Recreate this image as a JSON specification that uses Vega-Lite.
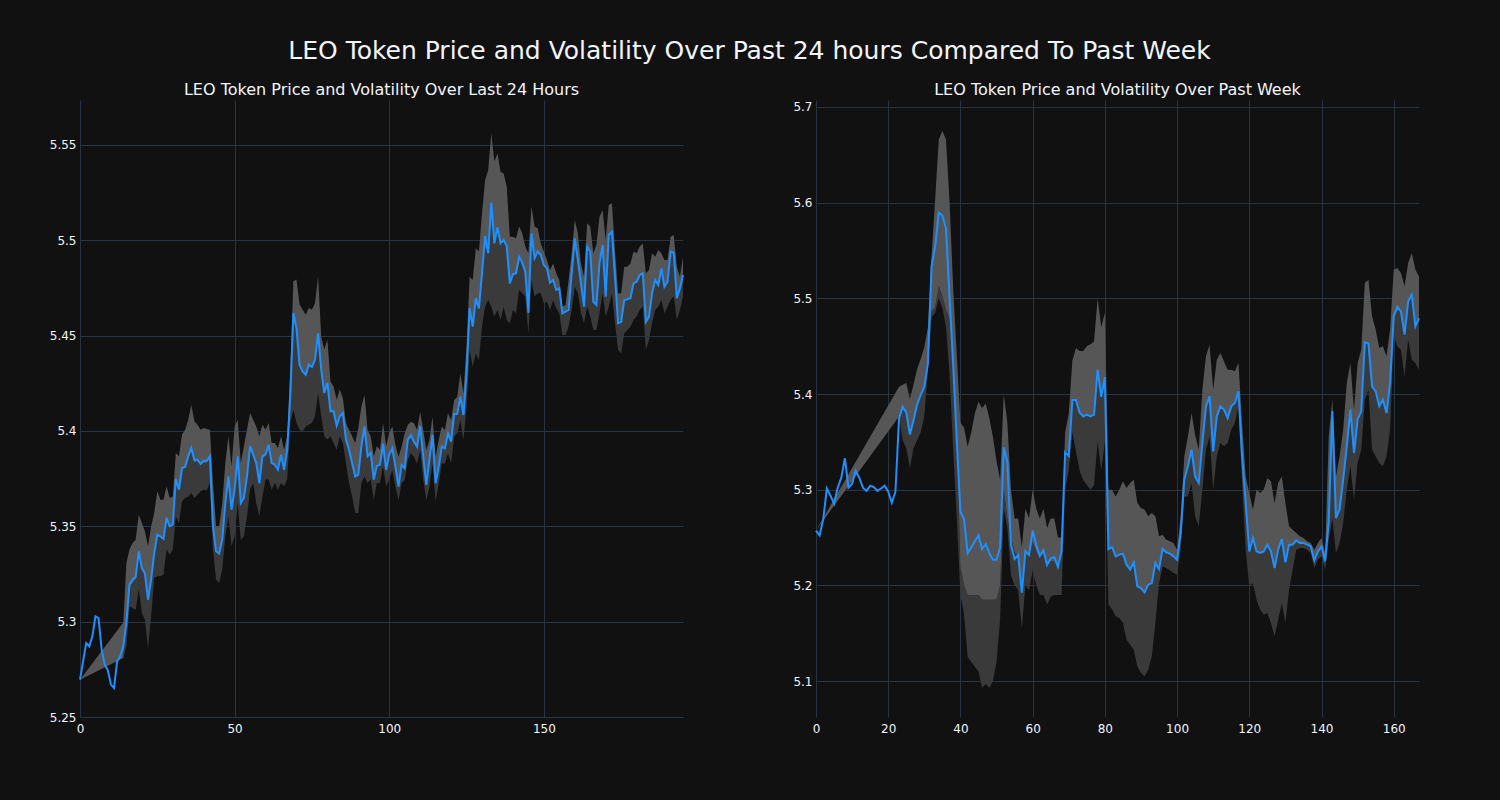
{
"$schema":"https://vega.github.io/schema/vega-lite/v6.json",
"background":"#111111",
"padding":{"left":40,"top":39,"right":77,"bottom":67},
"title":{"text":"LEO Token Price and Volatility Over Past 24 hours Compared To Past Week","fontSize":25,"font":"DejaVu Sans","fontWeight":"normal","color":"#f2f5fa","anchor":"middle","offset":18,"dx":18},
"config":{
"view":{"stroke":null,"fill":"#111111"},
"axis":{"domain":false,"ticks":false,"gridColor":"#283442","gridWidth":1,"labelColor":"#f2f5fa","labelFont":"DejaVu Sans","labelFontSize":12,"labelFlush":false},
"title":{"font":"DejaVu Sans","fontSize":16,"fontWeight":"normal","color":"#f2f5fa","offset":2}
},
"spacing":89,
"datasets":{
"left":[{"x":0,"p":5.2696},{"x":1,"p":5.2792},{"x":2,"p":5.2888},{"x":3,"p":5.2871},{"x":4,"p":5.2923},{"x":5,"p":5.3028},{"x":6,"p":5.3019},{"x":7,"p":5.2853},{"x":8,"p":5.2774},{"x":9,"p":5.2745},{"x":10,"p":5.267},{"x":11,"p":5.2652},{"x":12,"p":5.2792},{"x":13,"p":5.2818},{"x":14,"p":5.2871},{"x":15,"p":5.2993},{"x":16,"p":5.3194},{"x":17,"p":5.322},{"x":18,"p":5.3234},{"x":19,"p":5.3369},{"x":20,"p":5.3281},{"x":21,"p":5.3252},{"x":22,"p":5.3115},{"x":23,"p":5.322},{"x":24,"p":5.336},{"x":25,"p":5.3456},{"x":26,"p":5.3448},{"x":27,"p":5.3434},{"x":28,"p":5.3544},{"x":29,"p":5.35},{"x":30,"p":5.3509},{"x":31,"p":5.3748},{"x":32,"p":5.3692},{"x":33,"p":5.3806},{"x":34,"p":5.3811},{"x":35,"p":5.3867},{"x":36,"p":5.3911},{"x":37,"p":5.3846},{"x":38,"p":5.385},{"x":39,"p":5.3827},{"x":40,"p":5.3844},{"x":41,"p":5.3844},{"x":42,"p":5.3867},{"x":43,"p":5.35},{"x":44,"p":5.3369},{"x":45,"p":5.3357},{"x":46,"p":5.343},{"x":47,"p":5.3622},{"x":48,"p":5.3762},{"x":49,"p":5.3587},{"x":50,"p":5.3692},{"x":51,"p":5.3867},{"x":52,"p":5.3622},{"x":53,"p":5.3649},{"x":54,"p":5.3762},{"x":55,"p":5.392},{"x":56,"p":5.3876},{"x":57,"p":5.3832},{"x":58,"p":5.3727},{"x":59,"p":5.3867},{"x":60,"p":5.3876},{"x":61,"p":5.3928},{"x":62,"p":5.3832},{"x":63,"p":5.3823},{"x":64,"p":5.3797},{"x":65,"p":5.3876},{"x":66,"p":5.3797},{"x":67,"p":5.3902},{"x":68,"p":5.4182},{"x":69,"p":5.4619},{"x":70,"p":5.454},{"x":71,"p":5.4348},{"x":72,"p":5.4313},{"x":73,"p":5.4295},{"x":74,"p":5.4348},{"x":75,"p":5.4336},{"x":76,"p":5.4374},{"x":77,"p":5.4514},{"x":78,"p":5.4322},{"x":79,"p":5.4199},{"x":80,"p":5.4252},{"x":81,"p":5.4103},{"x":82,"p":5.4103},{"x":83,"p":5.4028},{"x":84,"p":5.4077},{"x":85,"p":5.4094},{"x":86,"p":5.3955},{"x":87,"p":5.3902},{"x":88,"p":5.3832},{"x":89,"p":5.3762},{"x":90,"p":5.3771},{"x":91,"p":5.392},{"x":92,"p":5.4024},{"x":93,"p":5.3867},{"x":94,"p":5.3885},{"x":95,"p":5.3745},{"x":96,"p":5.3818},{"x":97,"p":5.3823},{"x":98,"p":5.3934},{"x":99,"p":5.3797},{"x":100,"p":5.3876},{"x":101,"p":5.3909},{"x":102,"p":5.3813},{"x":103,"p":5.3708},{"x":104,"p":5.3822},{"x":105,"p":5.3804},{"x":106,"p":5.3953},{"x":107,"p":5.3979},{"x":108,"p":5.3944},{"x":109,"p":5.3918},{"x":110,"p":5.4026},{"x":111,"p":5.3865},{"x":112,"p":5.3717},{"x":113,"p":5.3848},{"x":114,"p":5.3979},{"x":115,"p":5.3726},{"x":116,"p":5.3813},{"x":117,"p":5.3918},{"x":118,"p":5.3909},{"x":119,"p":5.3988},{"x":120,"p":5.3944},{"x":121,"p":5.4089},{"x":122,"p":5.4089},{"x":123,"p":5.418},{"x":124,"p":5.4084},{"x":125,"p":5.4302},{"x":126,"p":5.4643},{"x":127,"p":5.4547},{"x":128,"p":5.4696},{"x":129,"p":5.4643},{"x":130,"p":5.4827},{"x":131,"p":5.5023},{"x":132,"p":5.4932},{"x":133,"p":5.5198},{"x":134,"p":5.4984},{"x":135,"p":5.5068},{"x":136,"p":5.4984},{"x":137,"p":5.5002},{"x":138,"p":5.497},{"x":139,"p":5.4774},{"x":140,"p":5.4823},{"x":141,"p":5.4827},{"x":142,"p":5.4914},{"x":143,"p":5.4883},{"x":144,"p":5.4836},{"x":145,"p":5.4621},{"x":146,"p":5.5037},{"x":147,"p":5.4906},{"x":148,"p":5.4941},{"x":149,"p":5.4923},{"x":150,"p":5.4871},{"x":151,"p":5.4853},{"x":152,"p":5.4778},{"x":153,"p":5.4792},{"x":154,"p":5.474},{"x":155,"p":5.4748},{"x":156,"p":5.4617},{"x":157,"p":5.4626},{"x":158,"p":5.4635},{"x":159,"p":5.4827},{"x":160,"p":5.501},{"x":161,"p":5.4897},{"x":162,"p":5.4774},{"x":163,"p":5.4652},{"x":164,"p":5.4967},{"x":165,"p":5.4941},{"x":166,"p":5.4678},{"x":167,"p":5.4661},{"x":168,"p":5.4879},{"x":169,"p":5.4976},{"x":170,"p":5.4705},{"x":171,"p":5.5028},{"x":172,"p":5.5045},{"x":173,"p":5.4809},{"x":174,"p":5.4565},{"x":175,"p":5.4573},{"x":176,"p":5.4687},{"x":177,"p":5.4691},{"x":178,"p":5.4696},{"x":179,"p":5.4774},{"x":180,"p":5.4783},{"x":181,"p":5.4818},{"x":182,"p":5.4827},{"x":183,"p":5.4573},{"x":184,"p":5.46},{"x":185,"p":5.4722},{"x":186,"p":5.4792},{"x":187,"p":5.4766},{"x":188,"p":5.4853},{"x":189,"p":5.4757},{"x":190,"p":5.4783},{"x":191,"p":5.4941},{"x":192,"p":5.4935},{"x":193,"p":5.4696},{"x":194,"p":5.4748},{"x":195,"p":5.4818}],
"leftBand":[{"x":0,"hi":5.2696,"mid":5.2696,"lo":5.2696},{"x":14,"hi":5.2996,"mid":5.2809,"lo":5.2809},{"x":15,"hi":5.3308,"mid":5.2993,"lo":5.2871},{"x":16,"hi":5.3378,"mid":5.3185,"lo":5.308},{"x":17,"hi":5.3413,"mid":5.3203,"lo":5.3072},{"x":18,"hi":5.343,"mid":5.322,"lo":5.3063},{"x":19,"hi":5.3561,"mid":5.336,"lo":5.3168},{"x":20,"hi":5.3517,"mid":5.3273,"lo":5.3045},{"x":21,"hi":5.3474,"mid":5.3246,"lo":5.301},{"x":22,"hi":5.3395,"mid":5.3115,"lo":5.2862},{"x":23,"hi":5.35,"mid":5.322,"lo":5.3028},{"x":24,"hi":5.357,"mid":5.3343,"lo":5.3229},{"x":25,"hi":5.3684,"mid":5.3448,"lo":5.3238},{"x":26,"hi":5.364,"mid":5.3439,"lo":5.3238},{"x":27,"hi":5.364,"mid":5.343,"lo":5.3246},{"x":28,"hi":5.371,"mid":5.3535,"lo":5.3378},{"x":29,"hi":5.3649,"mid":5.35,"lo":5.3351},{"x":30,"hi":5.3657,"mid":5.3509,"lo":5.3378},{"x":31,"hi":5.3885,"mid":5.3745,"lo":5.3552},{"x":32,"hi":5.3867,"mid":5.3692,"lo":5.3517},{"x":33,"hi":5.3981,"mid":5.3806,"lo":5.3631},{"x":34,"hi":5.4007,"mid":5.3806,"lo":5.3649},{"x":35,"hi":5.4059,"mid":5.3867,"lo":5.3657},{"x":36,"hi":5.4138,"mid":5.3911,"lo":5.3675},{"x":37,"hi":5.4051,"mid":5.3832,"lo":5.3649},{"x":38,"hi":5.4033,"mid":5.3841,"lo":5.3666},{"x":39,"hi":5.4007,"mid":5.3823,"lo":5.3684},{"x":40,"hi":5.4016,"mid":5.3832,"lo":5.3692},{"x":41,"hi":5.401,"mid":5.3832,"lo":5.3689},{"x":42,"hi":5.4007,"mid":5.3858,"lo":5.3727},{"x":43,"hi":5.3727,"mid":5.3517,"lo":5.3378},{"x":44,"hi":5.35,"mid":5.3378,"lo":5.322},{"x":45,"hi":5.35,"mid":5.3357,"lo":5.3203},{"x":46,"hi":5.3622,"mid":5.343,"lo":5.3273},{"x":47,"hi":5.3832,"mid":5.3622,"lo":5.3448},{"x":48,"hi":5.3972,"mid":5.3762,"lo":5.3552},{"x":49,"hi":5.3815,"mid":5.3587,"lo":5.3395},{"x":50,"hi":5.4024,"mid":5.3692,"lo":5.3448},{"x":51,"hi":5.4059,"mid":5.3867,"lo":5.3622},{"x":52,"hi":5.3832,"mid":5.3622,"lo":5.343},{"x":53,"hi":5.392,"mid":5.3649,"lo":5.3448},{"x":54,"hi":5.4007,"mid":5.3762,"lo":5.3552},{"x":55,"hi":5.4094,"mid":5.392,"lo":5.3692},{"x":56,"hi":5.4059,"mid":5.3876,"lo":5.3727},{"x":57,"hi":5.4024,"mid":5.3832,"lo":5.3622},{"x":58,"hi":5.3972,"mid":5.3727,"lo":5.3552},{"x":59,"hi":5.4033,"mid":5.3867,"lo":5.3657},{"x":60,"hi":5.4007,"mid":5.3876,"lo":5.3745},{"x":61,"hi":5.4042,"mid":5.3928,"lo":5.3745},{"x":62,"hi":5.3937,"mid":5.3832,"lo":5.3692},{"x":63,"hi":5.3937,"mid":5.3823,"lo":5.3727},{"x":64,"hi":5.3911,"mid":5.3797,"lo":5.3692},{"x":65,"hi":5.3972,"mid":5.3876,"lo":5.3727},{"x":66,"hi":5.3902,"mid":5.3797,"lo":5.371},{"x":67,"hi":5.3972,"mid":5.3902,"lo":5.3745},{"x":68,"hi":5.4322,"mid":5.4182,"lo":5.4042},{"x":69,"hi":5.4785,"mid":5.4601,"lo":5.4112},{"x":70,"hi":5.4794,"mid":5.4531,"lo":5.4042},{"x":71,"hi":5.4663,"mid":5.4348,"lo":5.4007},{"x":72,"hi":5.4636,"mid":5.4313,"lo":5.3998},{"x":73,"hi":5.461,"mid":5.4295,"lo":5.4024},{"x":74,"hi":5.4645,"mid":5.4348,"lo":5.4033},{"x":75,"hi":5.4636,"mid":5.4336,"lo":5.4042},{"x":76,"hi":5.4671,"mid":5.4374,"lo":5.4077},{"x":77,"hi":5.4811,"mid":5.4514,"lo":5.4199},{"x":78,"hi":5.4496,"mid":5.4322,"lo":5.4077},{"x":79,"hi":5.4427,"mid":5.4199,"lo":5.3972},{"x":80,"hi":5.4479,"mid":5.4252,"lo":5.3955},{"x":81,"hi":5.426,"mid":5.4103,"lo":5.3972},{"x":82,"hi":5.4234,"mid":5.4103,"lo":5.3937},{"x":83,"hi":5.4164,"mid":5.4028,"lo":5.3902},{"x":84,"hi":5.4217,"mid":5.4077,"lo":5.3972},{"x":85,"hi":5.4173,"mid":5.4086,"lo":5.3937},{"x":86,"hi":5.4042,"mid":5.3955,"lo":5.3832},{"x":87,"hi":5.4007,"mid":5.3902,"lo":5.3727},{"x":88,"hi":5.3972,"mid":5.3832,"lo":5.3657},{"x":89,"hi":5.3937,"mid":5.3762,"lo":5.357},{"x":90,"hi":5.4016,"mid":5.3771,"lo":5.357},{"x":91,"hi":5.4129,"mid":5.392,"lo":5.3727},{"x":92,"hi":5.419,"mid":5.4024,"lo":5.3762},{"x":93,"hi":5.4007,"mid":5.3867,"lo":5.3727},{"x":94,"hi":5.3972,"mid":5.3885,"lo":5.3745},{"x":95,"hi":5.3867,"mid":5.3745,"lo":5.364},{"x":96,"hi":5.392,"mid":5.3818,"lo":5.3727},{"x":97,"hi":5.3902,"mid":5.3823,"lo":5.3727},{"x":98,"hi":5.4042,"mid":5.3934,"lo":5.3815},{"x":99,"hi":5.392,"mid":5.3797,"lo":5.371},{"x":100,"hi":5.3989,"mid":5.3876,"lo":5.3745},{"x":101,"hi":5.4023,"mid":5.3909,"lo":5.3795},{"x":102,"hi":5.3927,"mid":5.3813,"lo":5.3708},{"x":103,"hi":5.3865,"mid":5.3708,"lo":5.3638},{"x":104,"hi":5.3918,"mid":5.3822,"lo":5.3726},{"x":105,"hi":5.3988,"mid":5.3804,"lo":5.3743},{"x":106,"hi":5.4031,"mid":5.3953,"lo":5.3848},{"x":107,"hi":5.4049,"mid":5.3979,"lo":5.3883},{"x":108,"hi":5.404,"mid":5.3944,"lo":5.3865},{"x":109,"hi":5.4005,"mid":5.3918,"lo":5.383},{"x":110,"hi":5.4101,"mid":5.4026,"lo":5.39},{"x":111,"hi":5.4005,"mid":5.3865,"lo":5.3743},{"x":112,"hi":5.39,"mid":5.3717,"lo":5.3638},{"x":113,"hi":5.3953,"mid":5.3848,"lo":5.3708},{"x":114,"hi":5.4075,"mid":5.3979,"lo":5.383},{"x":115,"hi":5.3865,"mid":5.3726,"lo":5.3629},{"x":116,"hi":5.3953,"mid":5.3813,"lo":5.3726},{"x":117,"hi":5.4023,"mid":5.3918,"lo":5.383},{"x":118,"hi":5.4005,"mid":5.3909,"lo":5.383},{"x":119,"hi":5.4093,"mid":5.3988,"lo":5.3883},{"x":120,"hi":5.4058,"mid":5.3944,"lo":5.383},{"x":121,"hi":5.4163,"mid":5.4089,"lo":5.397},{"x":122,"hi":5.418,"mid":5.4089,"lo":5.3988},{"x":123,"hi":5.4302,"mid":5.418,"lo":5.4058},{"x":124,"hi":5.4198,"mid":5.4084,"lo":5.3953},{"x":125,"hi":5.4442,"mid":5.4302,"lo":5.4128},{"x":126,"hi":5.4809,"mid":5.4643,"lo":5.4425},{"x":127,"hi":5.4792,"mid":5.4547,"lo":5.4337},{"x":128,"hi":5.4958,"mid":5.4696,"lo":5.4407},{"x":129,"hi":5.4941,"mid":5.4643,"lo":5.4372},{"x":130,"hi":5.5142,"mid":5.4827,"lo":5.4547},{"x":131,"hi":5.5316,"mid":5.4967,"lo":5.4652},{"x":132,"hi":5.5369,"mid":5.4932,"lo":5.4687},{"x":133,"hi":5.5561,"mid":5.5198,"lo":5.4652},{"x":134,"hi":5.5413,"mid":5.4984,"lo":5.46},{"x":135,"hi":5.5456,"mid":5.5054,"lo":5.4635},{"x":136,"hi":5.536,"mid":5.4984,"lo":5.4582},{"x":137,"hi":5.5351,"mid":5.5002,"lo":5.4652},{"x":138,"hi":5.5281,"mid":5.497,"lo":5.4582},{"x":139,"hi":5.5019,"mid":5.4774,"lo":5.4565},{"x":140,"hi":5.5019,"mid":5.4823,"lo":5.4635},{"x":141,"hi":5.5011,"mid":5.4827,"lo":5.4617},{"x":142,"hi":5.5072,"mid":5.4914,"lo":5.474},{"x":143,"hi":5.5037,"mid":5.4883,"lo":5.4722},{"x":144,"hi":5.4967,"mid":5.4836,"lo":5.4705},{"x":145,"hi":5.4932,"mid":5.4621,"lo":5.4512},{"x":146,"hi":5.5177,"mid":5.5037,"lo":5.4792},{"x":147,"hi":5.5072,"mid":5.4906,"lo":5.4705},{"x":148,"hi":5.5063,"mid":5.4941,"lo":5.4722},{"x":149,"hi":5.4984,"mid":5.4923,"lo":5.4722},{"x":150,"hi":5.4941,"mid":5.4871,"lo":5.467},{"x":151,"hi":5.4897,"mid":5.4853,"lo":5.4678},{"x":152,"hi":5.4844,"mid":5.4778,"lo":5.4635},{"x":153,"hi":5.4879,"mid":5.4792,"lo":5.4687},{"x":154,"hi":5.4827,"mid":5.4748,"lo":5.4643},{"x":155,"hi":5.4792,"mid":5.4748,"lo":5.4617},{"x":156,"hi":5.4652,"mid":5.4617,"lo":5.4503},{"x":157,"hi":5.4661,"mid":5.4626,"lo":5.4503},{"x":158,"hi":5.4792,"mid":5.4652,"lo":5.4547},{"x":159,"hi":5.4932,"mid":5.4827,"lo":5.4635},{"x":160,"hi":5.5107,"mid":5.501,"lo":5.4757},{"x":161,"hi":5.5037,"mid":5.4897,"lo":5.4722},{"x":162,"hi":5.4879,"mid":5.4774,"lo":5.4617},{"x":163,"hi":5.4809,"mid":5.4652,"lo":5.4565},{"x":164,"hi":5.5089,"mid":5.4967,"lo":5.4652},{"x":165,"hi":5.5072,"mid":5.4941,"lo":5.46},{"x":166,"hi":5.4932,"mid":5.4678,"lo":5.453},{"x":167,"hi":5.4976,"mid":5.4661,"lo":5.453},{"x":168,"hi":5.5124,"mid":5.4879,"lo":5.4617},{"x":169,"hi":5.5159,"mid":5.4976,"lo":5.4722},{"x":170,"hi":5.5002,"mid":5.4757,"lo":5.46},{"x":171,"hi":5.5185,"mid":5.5028,"lo":5.4652},{"x":172,"hi":5.5194,"mid":5.5045,"lo":5.4722},{"x":173,"hi":5.4949,"mid":5.4809,"lo":5.4565},{"x":174,"hi":5.4722,"mid":5.4582,"lo":5.4425},{"x":175,"hi":5.4722,"mid":5.4582,"lo":5.4407},{"x":176,"hi":5.4862,"mid":5.4687,"lo":5.4512},{"x":177,"hi":5.4862,"mid":5.4691,"lo":5.453},{"x":178,"hi":5.4879,"mid":5.4696,"lo":5.4547},{"x":179,"hi":5.4941,"mid":5.4774,"lo":5.4582},{"x":180,"hi":5.4932,"mid":5.4783,"lo":5.46},{"x":181,"hi":5.4967,"mid":5.4818,"lo":5.4635},{"x":182,"hi":5.4984,"mid":5.4827,"lo":5.4652},{"x":183,"hi":5.4827,"mid":5.4573,"lo":5.4425},{"x":184,"hi":5.4844,"mid":5.46,"lo":5.4477},{"x":185,"hi":5.4932,"mid":5.4722,"lo":5.4565},{"x":186,"hi":5.4914,"mid":5.4792,"lo":5.4635},{"x":187,"hi":5.4949,"mid":5.4766,"lo":5.4652},{"x":188,"hi":5.4932,"mid":5.4853,"lo":5.4687},{"x":189,"hi":5.4897,"mid":5.4757,"lo":5.4617},{"x":190,"hi":5.4897,"mid":5.4783,"lo":5.4652},{"x":191,"hi":5.5019,"mid":5.4941,"lo":5.4687},{"x":192,"hi":5.5028,"mid":5.4935,"lo":5.4705},{"x":193,"hi":5.4862,"mid":5.4696,"lo":5.4582},{"x":194,"hi":5.4809,"mid":5.4748,"lo":5.4635},{"x":195,"hi":5.4914,"mid":5.4818,"lo":5.4705}],
"right":[{"x":0,"p":5.2573},{"x":1,"p":5.2523},{"x":2,"p":5.2689},{"x":3,"p":5.3012},{"x":4,"p":5.2937},{"x":5,"p":5.2854},{"x":6,"p":5.302},{"x":7,"p":5.3123},{"x":8,"p":5.333},{"x":9,"p":5.302},{"x":10,"p":5.3061},{"x":11,"p":5.3198},{"x":12,"p":5.3123},{"x":13,"p":5.302},{"x":14,"p":5.2987},{"x":15,"p":5.3041},{"x":16,"p":5.3028},{"x":17,"p":5.2987},{"x":18,"p":5.3012},{"x":19,"p":5.3041},{"x":20,"p":5.2979},{"x":21,"p":5.2863},{"x":22,"p":5.2979},{"x":23,"p":5.3744},{"x":24,"p":5.3868},{"x":25,"p":5.3806},{"x":26,"p":5.3578},{"x":27,"p":5.3723},{"x":28,"p":5.3889},{"x":29,"p":5.3992},{"x":30,"p":5.4075},{"x":31,"p":5.4323},{"x":32,"p":5.5337},{"x":33,"p":5.5544},{"x":34,"p":5.5895},{"x":35,"p":5.5866},{"x":36,"p":5.573},{"x":37,"p":5.5},{"x":38,"p":5.43},{"x":39,"p":5.35},{"x":40,"p":5.277},{"x":41,"p":5.2689},{"x":42,"p":5.2337},{"x":43,"p":5.2399},{"x":44,"p":5.2461},{"x":45,"p":5.2523},{"x":46,"p":5.2379},{"x":47,"p":5.2432},{"x":48,"p":5.2337},{"x":49,"p":5.2267},{"x":50,"p":5.2267},{"x":51,"p":5.2399},{"x":52,"p":5.3442},{"x":53,"p":5.3289},{"x":54,"p":5.242},{"x":55,"p":5.2275},{"x":56,"p":5.2317},{"x":57,"p":5.1923},{"x":58,"p":5.2358},{"x":59,"p":5.2317},{"x":60,"p":5.2573},{"x":61,"p":5.242},{"x":62,"p":5.2308},{"x":63,"p":5.2366},{"x":64,"p":5.2213},{"x":65,"p":5.2283},{"x":66,"p":5.2296},{"x":67,"p":5.2192},{"x":68,"p":5.2358},{"x":69,"p":5.3392},{"x":70,"p":5.3351},{"x":71,"p":5.3938},{"x":72,"p":5.3938},{"x":73,"p":5.3806},{"x":74,"p":5.3765},{"x":75,"p":5.3785},{"x":76,"p":5.3765},{"x":77,"p":5.3785},{"x":78,"p":5.4253},{"x":79,"p":5.3971},{"x":80,"p":5.4178},{"x":81,"p":5.2379},{"x":82,"p":5.2399},{"x":83,"p":5.2303},{"x":84,"p":5.2321},{"x":85,"p":5.2331},{"x":86,"p":5.2216},{"x":87,"p":5.2164},{"x":88,"p":5.224},{"x":89,"p":5.199},{"x":90,"p":5.1972},{"x":91,"p":5.1927},{"x":92,"p":5.2007},{"x":93,"p":5.2024},{"x":94,"p":5.2233},{"x":95,"p":5.2171},{"x":96,"p":5.2383},{"x":97,"p":5.2345},{"x":98,"p":5.2331},{"x":99,"p":5.2303},{"x":100,"p":5.2268},{"x":101,"p":5.2547},{"x":102,"p":5.3104},{"x":103,"p":5.3244},{"x":104,"p":5.3418},{"x":105,"p":5.3139},{"x":106,"p":5.307},{"x":107,"p":5.3488},{"x":108,"p":5.3871},{"x":109,"p":5.3976},{"x":110,"p":5.3401},{"x":111,"p":5.3767},{"x":112,"p":5.3871},{"x":113,"p":5.3836},{"x":114,"p":5.3749},{"x":115,"p":5.3871},{"x":116,"p":5.3906},{"x":117,"p":5.4028},{"x":118,"p":5.3348},{"x":119,"p":5.2861},{"x":120,"p":5.2355},{"x":121,"p":5.2495},{"x":122,"p":5.2355},{"x":123,"p":5.2338},{"x":124,"p":5.2355},{"x":125,"p":5.2425},{"x":126,"p":5.2355},{"x":127,"p":5.2181},{"x":128,"p":5.2373},{"x":129,"p":5.2484},{"x":130,"p":5.224},{"x":131,"p":5.2425},{"x":132,"p":5.2425},{"x":133,"p":5.247},{"x":134,"p":5.2443},{"x":135,"p":5.2443},{"x":136,"p":5.2425},{"x":137,"p":5.2408},{"x":138,"p":5.2261},{"x":139,"p":5.2355},{"x":140,"p":5.2408},{"x":141,"p":5.2251},{"x":142,"p":5.2669},{"x":143,"p":5.3819},{"x":144,"p":5.2704},{"x":145,"p":5.2791},{"x":146,"p":5.3104},{"x":147,"p":5.3453},{"x":148,"p":5.3836},{"x":149,"p":5.3383},{"x":150,"p":5.3732},{"x":151,"p":5.3819},{"x":152,"p":5.454},{"x":153,"p":5.4526},{"x":154,"p":5.408},{"x":155,"p":5.4028},{"x":156,"p":5.3871},{"x":157,"p":5.3941},{"x":158,"p":5.3801},{"x":159,"p":5.4115},{"x":160,"p":5.4812},{"x":161,"p":5.4909},{"x":162,"p":5.4864},{"x":163,"p":5.462},{"x":164,"p":5.4969},{"x":165,"p":5.5038},{"x":166,"p":5.4707},{"x":167,"p":5.4794}],
"rightBand":[{"x":0,"hi":5.2573,"mid":5.2573,"lo":5.2573},{"x":23,"hi":5.4075,"mid":5.3765,"lo":5.3765},{"x":24,"hi":5.4096,"mid":5.3868,"lo":5.3516},{"x":25,"hi":5.4116,"mid":5.3806,"lo":5.3434},{"x":26,"hi":5.3951,"mid":5.3578,"lo":5.3227},{"x":27,"hi":5.4096,"mid":5.3723,"lo":5.3434},{"x":28,"hi":5.4261,"mid":5.3889,"lo":5.3516},{"x":29,"hi":5.4365,"mid":5.3992,"lo":5.3599},{"x":30,"hi":5.4489,"mid":5.4075,"lo":5.3765},{"x":31,"hi":5.47,"mid":5.44,"lo":5.425},{"x":32,"hi":5.545,"mid":5.487,"lo":5.48},{"x":33,"hi":5.603,"mid":5.49,"lo":5.485},{"x":34,"hi":5.666,"mid":5.513,"lo":5.5},{"x":35,"hi":5.675,"mid":5.502,"lo":5.49},{"x":36,"hi":5.666,"mid":5.488,"lo":5.47},{"x":37,"hi":5.6,"mid":5.478,"lo":5.42},{"x":38,"hi":5.51,"mid":5.42,"lo":5.34},{"x":39,"hi":5.44,"mid":5.35,"lo":5.27},{"x":40,"hi":5.37,"mid":5.22,"lo":5.19},{"x":41,"hi":5.365,"mid":5.2,"lo":5.17},{"x":42,"hi":5.345,"mid":5.19,"lo":5.125},{"x":43,"hi":5.36,"mid":5.19,"lo":5.12},{"x":44,"hi":5.38,"mid":5.19,"lo":5.115},{"x":45,"hi":5.392,"mid":5.19,"lo":5.11},{"x":46,"hi":5.385,"mid":5.185,"lo":5.093},{"x":47,"hi":5.39,"mid":5.185,"lo":5.097},{"x":48,"hi":5.375,"mid":5.185,"lo":5.093},{"x":49,"hi":5.355,"mid":5.185,"lo":5.1},{"x":50,"hi":5.33,"mid":5.185,"lo":5.12},{"x":51,"hi":5.31,"mid":5.2,"lo":5.165},{"x":52,"hi":5.4,"mid":5.3,"lo":5.28},{"x":53,"hi":5.37,"mid":5.27,"lo":5.26},{"x":54,"hi":5.3,"mid":5.25,"lo":5.21},{"x":55,"hi":5.27,"mid":5.235,"lo":5.2},{"x":56,"hi":5.27,"mid":5.23,"lo":5.195},{"x":57,"hi":5.24,"mid":5.2,"lo":5.155},{"x":58,"hi":5.28,"mid":5.235,"lo":5.2},{"x":59,"hi":5.27,"mid":5.23,"lo":5.195},{"x":60,"hi":5.3,"mid":5.245,"lo":5.215},{"x":61,"hi":5.28,"mid":5.235,"lo":5.2},{"x":62,"hi":5.27,"mid":5.23,"lo":5.19},{"x":63,"hi":5.28,"mid":5.235,"lo":5.19},{"x":64,"hi":5.26,"mid":5.22,"lo":5.18},{"x":65,"hi":5.27,"mid":5.225,"lo":5.188},{"x":66,"hi":5.27,"mid":5.225,"lo":5.19},{"x":67,"hi":5.25,"mid":5.22,"lo":5.19},{"x":68,"hi":5.25,"mid":5.23,"lo":5.19},{"x":69,"hi":5.36,"mid":5.34,"lo":5.3},{"x":70,"hi":5.38,"mid":5.34,"lo":5.32},{"x":71,"hi":5.435,"mid":5.394,"lo":5.36},{"x":72,"hi":5.448,"mid":5.394,"lo":5.34},{"x":73,"hi":5.445,"mid":5.38,"lo":5.32},{"x":74,"hi":5.445,"mid":5.377,"lo":5.31},{"x":75,"hi":5.45,"mid":5.378,"lo":5.305},{"x":76,"hi":5.452,"mid":5.377,"lo":5.3},{"x":77,"hi":5.455,"mid":5.38,"lo":5.305},{"x":78,"hi":5.5,"mid":5.425,"lo":5.35},{"x":79,"hi":5.47,"mid":5.4,"lo":5.32},{"x":80,"hi":5.485,"mid":5.418,"lo":5.35},{"x":81,"hi":5.3,"mid":5.24,"lo":5.18},{"x":82,"hi":5.3,"mid":5.24,"lo":5.175},{"x":83,"hi":5.293,"mid":5.2303,"lo":5.1676},{"x":84,"hi":5.3,"mid":5.2321,"lo":5.1659},{"x":85,"hi":5.3087,"mid":5.2331,"lo":5.1606},{"x":86,"hi":5.3017,"mid":5.2216,"lo":5.1432},{"x":87,"hi":5.307,"mid":5.2164,"lo":5.138},{"x":88,"hi":5.3104,"mid":5.2233,"lo":5.1328},{"x":89,"hi":5.2861,"mid":5.199,"lo":5.1153},{"x":90,"hi":5.2808,"mid":5.1972,"lo":5.1084},{"x":91,"hi":5.2791,"mid":5.1927,"lo":5.1049},{"x":92,"hi":5.2721,"mid":5.2007,"lo":5.1118},{"x":93,"hi":5.2756,"mid":5.2024,"lo":5.1258},{"x":94,"hi":5.2721,"mid":5.2233,"lo":5.1606},{"x":95,"hi":5.2512,"mid":5.2171,"lo":5.2024},{"x":96,"hi":5.253,"mid":5.2383,"lo":5.2199},{"x":97,"hi":5.2477,"mid":5.2345,"lo":5.2182},{"x":98,"hi":5.246,"mid":5.2331,"lo":5.2157},{"x":99,"hi":5.2443,"mid":5.2303,"lo":5.2129},{"x":100,"hi":5.2373,"mid":5.2268,"lo":5.2112},{"x":101,"hi":5.2721,"mid":5.2547,"lo":5.2373},{"x":102,"hi":5.3348,"mid":5.3104,"lo":5.293},{"x":103,"hi":5.3557,"mid":5.3244,"lo":5.293},{"x":104,"hi":5.3801,"mid":5.3418,"lo":5.307},{"x":105,"hi":5.3575,"mid":5.3139,"lo":5.2721},{"x":106,"hi":5.3418,"mid":5.307,"lo":5.2617},{"x":107,"hi":5.4045,"mid":5.3488,"lo":5.3},{"x":108,"hi":5.4394,"mid":5.3871,"lo":5.3418},{"x":109,"hi":5.4516,"mid":5.3976,"lo":5.3557},{"x":110,"hi":5.4045,"mid":5.3401,"lo":5.3},{"x":111,"hi":5.4359,"mid":5.3767,"lo":5.3348},{"x":112,"hi":5.4429,"mid":5.3871,"lo":5.3488},{"x":113,"hi":5.4341,"mid":5.3836,"lo":5.3453},{"x":114,"hi":5.4254,"mid":5.3749,"lo":5.3488},{"x":115,"hi":5.4254,"mid":5.3871,"lo":5.3627},{"x":116,"hi":5.4237,"mid":5.3906,"lo":5.3697},{"x":117,"hi":5.4324,"mid":5.4028,"lo":5.3871},{"x":118,"hi":5.3697,"mid":5.3348,"lo":5.307},{"x":119,"hi":5.3139,"mid":5.2721,"lo":5.2373},{"x":120,"hi":5.2965,"mid":5.2355,"lo":5.199},{"x":121,"hi":5.2791,"mid":5.2495,"lo":5.2024},{"x":122,"hi":5.3,"mid":5.2355,"lo":5.185},{"x":123,"hi":5.2965,"mid":5.2338,"lo":5.1746},{"x":124,"hi":5.3,"mid":5.2355,"lo":5.1693},{"x":125,"hi":5.3122,"mid":5.2425,"lo":5.1711},{"x":126,"hi":5.3087,"mid":5.2355,"lo":5.1606},{"x":127,"hi":5.2861,"mid":5.2181,"lo":5.1467},{"x":128,"hi":5.307,"mid":5.2373,"lo":5.1641},{"x":129,"hi":5.3139,"mid":5.2484,"lo":5.1815},{"x":130,"hi":5.2861,"mid":5.224,"lo":5.1606},{"x":131,"hi":5.2617,"mid":5.2425,"lo":5.1955},{"x":132,"hi":5.2582,"mid":5.2425,"lo":5.2164},{"x":133,"hi":5.2547,"mid":5.247,"lo":5.2373},{"x":134,"hi":5.2512,"mid":5.2443,"lo":5.239},{"x":135,"hi":5.2495,"mid":5.2443,"lo":5.239},{"x":136,"hi":5.246,"mid":5.2425,"lo":5.2373},{"x":137,"hi":5.2443,"mid":5.2408,"lo":5.2338},{"x":138,"hi":5.2373,"mid":5.2261,"lo":5.2182},{"x":139,"hi":5.2443,"mid":5.2355,"lo":5.2268},{"x":140,"hi":5.2495,"mid":5.2408,"lo":5.2303},{"x":141,"hi":5.2338,"mid":5.2251,"lo":5.2164},{"x":142,"hi":5.3557,"mid":5.2669,"lo":5.2477},{"x":143,"hi":5.3941,"mid":5.3819,"lo":5.27},{"x":144,"hi":5.3139,"mid":5.2704,"lo":5.2338},{"x":145,"hi":5.3348,"mid":5.2791,"lo":5.2443},{"x":146,"hi":5.3627,"mid":5.3104,"lo":5.2652},{"x":147,"hi":5.4115,"mid":5.3453,"lo":5.3},{"x":148,"hi":5.4324,"mid":5.3836,"lo":5.3244},{"x":149,"hi":5.3836,"mid":5.3383,"lo":5.2896},{"x":150,"hi":5.4324,"mid":5.3732,"lo":5.3279},{"x":151,"hi":5.4463,"mid":5.3819,"lo":5.3418},{"x":152,"hi":5.516,"mid":5.454,"lo":5.3941},{"x":153,"hi":5.5195,"mid":5.4526,"lo":5.4045},{"x":154,"hi":5.4812,"mid":5.408,"lo":5.3418},{"x":155,"hi":5.4673,"mid":5.4028,"lo":5.3348},{"x":156,"hi":5.4481,"mid":5.3871,"lo":5.3279},{"x":157,"hi":5.4498,"mid":5.3941,"lo":5.3244},{"x":158,"hi":5.4394,"mid":5.3801,"lo":5.3348},{"x":159,"hi":5.4673,"mid":5.4115,"lo":5.3627},{"x":160,"hi":5.53,"mid":5.4812,"lo":5.4603},{"x":161,"hi":5.5317,"mid":5.4909,"lo":5.4498},{"x":162,"hi":5.5265,"mid":5.4864,"lo":5.4463},{"x":163,"hi":5.5125,"mid":5.462,"lo":5.4185},{"x":164,"hi":5.5369,"mid":5.4969,"lo":5.4568},{"x":165,"hi":5.5474,"mid":5.5038,"lo":5.4359},{"x":166,"hi":5.53,"mid":5.4707,"lo":5.4324},{"x":167,"hi":5.523,"mid":5.4794,"lo":5.4254}]
},
"hconcat":[
{
"width":603,"height":617,
"title":{"text":"LEO Token Price and Volatility Over Last 24 Hours"},
"layer":[
{"data":{"name":"leftBand"},"mark":{"type":"area","color":"#3a3a3a"},
"encoding":{
"x":{"field":"x","type":"quantitative","title":null,"scale":{"domain":[0,195],"nice":false,"zero":false},"axis":{"values":[0,50,100,150],"labelPadding":6}},
"y":{"field":"lo","type":"quantitative","title":null,"scale":{"domain":[5.25,5.5736],"nice":false,"zero":false},"axis":{"values":[5.25,5.3,5.35,5.4,5.45,5.5,5.55],"format":".2~f","labelPadding":4,"minExtent":40,"maxExtent":40}},
"y2":{"field":"mid"}}},
{"data":{"name":"leftBand"},"mark":{"type":"area","color":"#565656"},
"encoding":{"x":{"field":"x","type":"quantitative","title":null},"y":{"field":"mid","type":"quantitative","title":null},"y2":{"field":"hi"}}},
{"data":{"name":"left"},"mark":{"type":"line","color":"#1e90ff","strokeWidth":2},
"encoding":{"x":{"field":"x","type":"quantitative","title":null},"y":{"field":"p","type":"quantitative","title":null}}}
]
},
{
"width":603,"height":617,
"title":{"text":"LEO Token Price and Volatility Over Past Week"},
"layer":[
{"data":{"name":"rightBand"},"mark":{"type":"area","color":"#3a3a3a"},
"encoding":{
"x":{"field":"x","type":"quantitative","title":null,"scale":{"domain":[0,167],"nice":false,"zero":false},"axis":{"values":[0,20,40,60,80,100,120,140,160],"labelPadding":6}},
"y":{"field":"lo","type":"quantitative","title":null,"scale":{"domain":[5.0624,5.7073],"nice":false,"zero":false},"axis":{"values":[5.1,5.2,5.3,5.4,5.5,5.6,5.7],"format":".1f","labelPadding":4,"minExtent":40,"maxExtent":40}},
"y2":{"field":"mid"}}},
{"data":{"name":"rightBand"},"mark":{"type":"area","color":"#565656"},
"encoding":{"x":{"field":"x","type":"quantitative","title":null},"y":{"field":"mid","type":"quantitative","title":null},"y2":{"field":"hi"}}},
{"data":{"name":"right"},"mark":{"type":"line","color":"#1e90ff","strokeWidth":2},
"encoding":{"x":{"field":"x","type":"quantitative","title":null},"y":{"field":"p","type":"quantitative","title":null}}}
]
}
]
}
